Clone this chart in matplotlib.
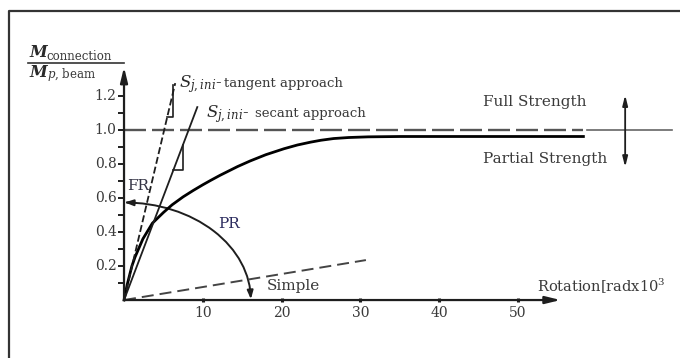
import matplotlib
matplotlib.use("Agg")
import matplotlib.pyplot as plt
from matplotlib.patches import Ellipse, Rectangle

# ---------------- data ----------------
# Moment-rotation curve of the connection (rotation in rad x 10^3, M/Mp)
curve_rot = [0, 0.4, 1.0, 1.4, 2.4, 3.6, 5.0, 6.1, 7.5, 8.8, 10.0, 11.0, 12.2,
             14.4, 16.0, 18.0, 20.3, 22.0, 23.7, 25.0, 26.6, 28.5, 31.0, 35.0,
             40.0, 58.3]
curve_m = [0, 0.09, 0.20, 0.253, 0.36, 0.452, 0.515, 0.56, 0.607, 0.645, 0.678,
           0.704, 0.734, 0.785, 0.818, 0.855, 0.89, 0.912, 0.929, 0.94, 0.95,
           0.956, 0.96, 0.962, 0.962, 0.962]

# Initial stiffness lines
tangent_rot = [0, 6.5]
tangent_m = [0, 1.276]
secant_rot = [0, 9.3]
secant_m = [0, 1.135]
simple_rot = [0, 30.7]
simple_m = [0, 0.235]

# Slope triangles
tan_tri_rot = [5.48, 6.22, 6.22]
tan_tri_m = [1.076, 1.076, 1.265]
sec_tri_rot = [6.27, 7.49, 7.49]
sec_tri_m = [0.765, 0.765, 0.914]

# Full-strength boundary
full_strength = 1.0
full_dash_end = 58.3
full_solid_end = 69.5

# PR boundary (quarter ellipse)
pr_rot_max = 16.1
pr_m_max = 0.574

# Axis ticks
x_ticks = [10, 20, 30, 40, 50]
y_ticks = [0.1, 0.2, 0.3, 0.4, 0.5, 0.6, 0.7, 0.8, 0.9, 1.0, 1.1, 1.2]
y_tick_labels = {0.2: "0.2", 0.4: "0.4", 0.6: "0.6", 0.8: "0.8", 1.0: "1.0", 1.2: "1.2"}

# Strength arrow range
strength_arrow_rot = 63.6
strength_arrow_m = [0.782, 1.206]

# ---------------- figure ----------------
plt.rcParams['font.family'] = ['DejaVu Serif']
plt.rcParams['mathtext.fontset'] = 'dejavuserif'
plt.rcParams['lines.scale_dashes'] = False

PX = 0.72  # points per pixel at 100 dpi

fig = plt.figure(figsize=(6.8, 3.58), dpi=100)
ax = fig.add_axes([0, 0, 1, 1])
ax.set_xlim(-15.74, 70.56)
ax.set_ylim(-0.341, 1.765)
ax.axis('off')

ink = '#1e1e1e'
txt = '#3a3a3a'

# Frame
ax.plot([9 / 680, 9 / 680, 1.02], [-0.02, 1 - 11 / 358, 1 - 11 / 358],
        transform=ax.transAxes, color='#333333', lw=1.6, clip_on=False,
        solid_capstyle='projecting')

# Axes arrows
ax.annotate('', xy=(55.4, 0), xytext=(0, 0),
            arrowprops=dict(arrowstyle='-|>,head_length=0.9,head_width=0.22',
                            lw=1.6, color=ink, shrinkA=0, shrinkB=0))
ax.annotate('', xy=(0, 1.37), xytext=(0, 0),
            arrowprops=dict(arrowstyle='-|>,head_length=0.9,head_width=0.22',
                            lw=1.6, color=ink, shrinkA=0, shrinkB=0))

# y ticks
for t in y_ticks:
    ax.plot([-0.75, 0], [t, t], color=ink, lw=1.4, solid_capstyle='butt')
    if t in y_tick_labels:
        ax.text(-0.95, t, y_tick_labels[t], ha='right', va='center',
                fontsize=10, color=txt)
# x ticks
for t in x_ticks:
    ax.plot([t, t], [-0.012, 0.012], color=ink, lw=2.2, solid_capstyle='butt')
    ax.text(t, -0.078, str(t), ha='center', va='center', fontsize=10, color=txt)

# Full strength line
ax.plot([0, full_dash_end], [full_strength, full_strength], color='#555555',
        lw=1.7, dashes=(22 * PX, 6 * PX))
ax.plot([full_dash_end + 0.5, full_solid_end], [full_strength, full_strength],
        color='#666666', lw=1.2)

# Main curve
ax.plot(curve_rot, curve_m, color='black', lw=2.0, solid_joinstyle='round')

# Tangent and secant lines
ax.plot(tangent_rot, tangent_m, color=ink, lw=1.3, dashes=(7 * PX, 3 * PX))
ax.plot(secant_rot, secant_m, color=ink, lw=1.3)
ax.plot(tan_tri_rot, tan_tri_m, color=ink, lw=1.2)
ax.plot(sec_tri_rot, sec_tri_m, color=ink, lw=1.2)

# Simple line
ax.plot(simple_rot, simple_m, color='#444444', lw=1.4, dashes=(12 * PX, 6 * PX))

# PR boundary: quarter of an ellipse, clipped to the first quadrant
clip = Rectangle((0.3, 0.03), pr_rot_max * 1.5, pr_m_max * 1.5,
                 transform=ax.transData, fill=False, visible=False)
ax.add_patch(clip)
pr = Ellipse((0, 0), 2 * pr_rot_max, 2 * pr_m_max, fill=False,
             edgecolor=ink, lw=1.4)
ax.add_patch(pr)
pr.set_clip_path(clip)
ax.annotate('', xy=(0.1, pr_m_max), xytext=(1.5, pr_m_max * 0.9965),
            arrowprops=dict(arrowstyle='-|>,head_length=0.5,head_width=0.18',
                            lw=1.4, color=ink, shrinkA=0, shrinkB=0))
ax.annotate('', xy=(pr_rot_max, 0.005), xytext=(pr_rot_max * 0.9945, 0.06),
            arrowprops=dict(arrowstyle='-|>,head_length=0.5,head_width=0.18',
                            lw=1.4, color=ink, shrinkA=0, shrinkB=0))

# Strength double arrow
ax.annotate('', xy=(strength_arrow_rot, strength_arrow_m[1]),
            xytext=(strength_arrow_rot, strength_arrow_m[0]),
            arrowprops=dict(arrowstyle='<|-|>,head_length=0.6,head_width=0.15',
                            lw=1.3, color=ink, shrinkA=0, shrinkB=0))

# Labels
ax.text(45.6, 1.141, 'Full Strength', fontsize=11, color=txt, va='baseline')
ax.text(45.6, 0.806, 'Partial Strength', fontsize=11, color=txt, va='baseline')
ax.text(18.15, 0.059, 'Simple', fontsize=11, color=txt, va='baseline')
ax.text(11.9, 0.424, 'PR', fontsize=11, color='#2b2b5e', va='baseline')
ax.text(0.35, 0.647, 'FR', fontsize=11, color='#333344', va='baseline')
ax.text(52.4, 0.047, r'Rotation[radx10$^3$', fontsize=10.5, color=txt,
        va='baseline')

ax.text(7.0, 1.253, r'$S_{j,ini}$-', fontsize=12, color='#2a2a2a', va='baseline')
ax.text(12.7, 1.253, 'tangent approach', fontsize=9.5, color=txt, va='baseline')
ax.text(10.4, 1.076, r'$S_{j,ini}$-', fontsize=12, color='#2a2a2a', va='baseline')
ax.text(16.6, 1.076, 'secant approach', fontsize=9.5, color=txt, va='baseline')

# Ordinate label (fraction)
ax.text(-12.0, 1.429, 'M', fontsize=11.5, fontweight='bold', fontstyle='italic',
        color='#2a2a2a', va='baseline')
ax.text(-9.9, 1.410, 'connection', fontsize=8.5, color=txt, va='baseline')
ax.plot([-12.2, 0.05], [1.394, 1.394], color='#333333', lw=1.2)
ax.text(-12.0, 1.312, 'M', fontsize=11.5, fontweight='bold', fontstyle='italic',
        color='#2a2a2a', va='baseline')
ax.text(-9.8, 1.306, r'$p$, beam', fontsize=8.5, color=txt, va='baseline')

fig.savefig('out.png', dpi=100)
